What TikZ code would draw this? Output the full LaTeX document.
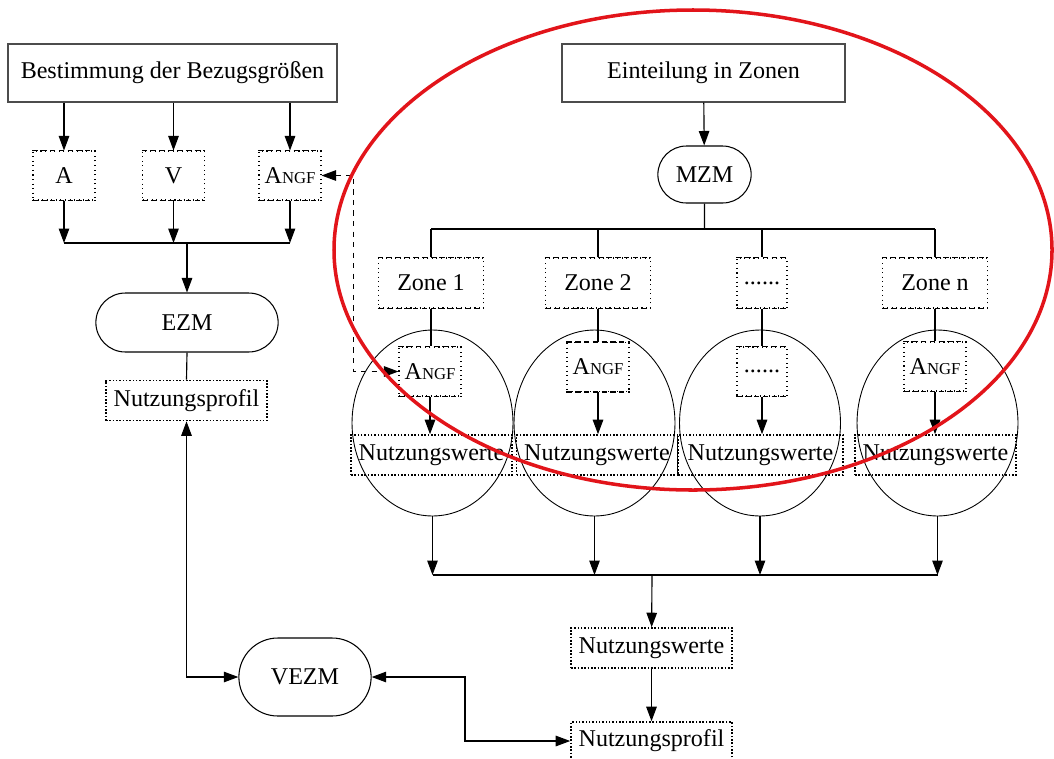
\documentclass[tikz,border=0pt]{standalone}
\usepackage{fontspec}
\setmainfont{Liberation Serif}
\usetikzlibrary{arrows.meta,shapes.misc,shapes.geometric}

\definecolor{markred}{RGB}{226,20,26}
\newcommand{\angf}{A{\fontsize{9.5}{10}\selectfont NGF}}

\tikzset{
  >={Triangle[length=2.9mm,width=2.1mm]},
  every node/.style={font=\fontsize{13.7}{16}\selectfont},
  block/.style={draw=black!70, line width=0.7pt, minimum height=1.16cm},
  term/.style={draw, rounded rectangle, line width=0.6pt},
  zbox/.style={draw, dotted, line width=0.6pt, inner sep=0pt,
    append after command={
      (\tikzlastnode.north west) edge[densely dashed, line width=1.1pt] (\tikzlastnode.north east)
      (\tikzlastnode.south west) edge[densely dashed, line width=1.1pt] (\tikzlastnode.south east)}},
  wbox/.style={draw, densely dotted, line width=0.9pt, minimum width=3.22cm,
    minimum height=0.8cm, inner sep=0pt},
  zell/.style={draw, ellipse, minimum width=3.22cm, minimum height=3.72cm, line width=0.5pt}
}

\begin{document}
\begin{tikzpicture}[x=0.02cm, y=-0.02cm, line width=0.65pt]
  \useasboundingbox (0,0) rectangle (1054,758);

  % left side: reference quantities and the single zone model
  \node[block, minimum width=6.58cm] (bez) at (172.5,73) {Bestimmung der Bezugsgrößen};
  \node[zbox, minimum width=1.24cm, minimum height=0.98cm] (a) at (64,175.5) {A};
  \node[zbox, minimum width=1.24cm, minimum height=0.98cm] (v) at (173.5,175.5) {V};
  \node[zbox, minimum width=1.24cm, minimum height=0.98cm] (angf) at (290,175.5) {\angf};
  \coordinate (top) at (187,243);

  \node[term, minimum width=3.88cm, minimum height=1.18cm] (ezm) at (187,322.5) {EZM};
  \node[wbox] (np1) at (186.5,400.5) {Nutzungsprofil};
  \node[term, minimum width=2.88cm, minimum height=1.56cm] (vezm) at (305,677) {VEZM};

  \draw[->] (bez.south -| a) -- (a);
  \draw[->] (bez.south -| v) -- (v);
  \draw[->] (bez.south -| angf) -- (angf);
  \draw[->] (a) -- (a |- top);
  \draw[->] (v) -- (v |- top);
  \draw[->] (angf) -- (angf |- top);
  \draw (a |- top) -- (angf |- top);
  \draw[->] (top) -- (top |- ezm.north);
  \draw (ezm.south) -- (np1.north);
  \draw[<->] (np1.south) |- (vezm.west);

  % right side: multi zone model
  \node[block, minimum width=5.66cm] (ein) at (703.5,73) {Einteilung in Zonen};
  \node[term, minimum width=2.1cm, minimum height=1.14cm] (mzm) at (704.5,174.5) {MZM};
  \coordinate (hub) at (704.5,229);

  \node[zell] (e1) at (432.5,423) {};
  \node[zell] (e2) at (594.5,423) {};
  \node[zell] (e3) at (760,423) {};
  \node[zell] (e4) at (937.5,423) {};

  \node[zbox, minimum width=2.1cm, minimum height=1cm] (z1) at (431,283) {Zone 1};
  \node[zbox, minimum width=2.1cm, minimum height=1cm] (z2) at (598,283) {Zone 2};
  \node[zbox, minimum width=1cm, minimum height=1cm] (z3) at (762,283) {......};
  \node[zbox, minimum width=2.1cm, minimum height=1cm] (z4) at (935,283) {Zone n};

  \node[zbox, minimum width=1.24cm, minimum height=0.98cm] (g1) at (430,371.5) {\angf};
  \node[zbox, minimum width=1.24cm, minimum height=0.98cm] (g2) at (598,367) {\angf};
  \node[zbox, minimum width=1cm, minimum height=0.98cm] (g3) at (762,371.5) {......};
  \node[zbox, minimum width=1.24cm, minimum height=0.98cm] (g4) at (935,366.5) {\angf};

  \node[wbox] (w1) at (431.5,455) {Nutzungswerte};
  \node[wbox] (w2) at (597,455) {Nutzungswerte};
  \node[wbox, minimum width=3.3cm] (w3) at (760.5,455) {Nutzungswerte};
  \node[wbox] (w4) at (935.5,455) {Nutzungswerte};

  \draw[->] (ein) -- (mzm);
  \draw (mzm) -- (hub);
  \draw (z1 |- hub) -- (z4 |- hub);
  \draw (z1 |- hub) -- (z1);
  \draw (z2 |- hub) -- (z2);
  \draw (z3 |- hub) -- (z3);
  \draw (z4 |- hub) -- (z4);
  \draw (z1) -- (z1 |- g1.north);
  \draw (z2) -- (g2);
  \draw (z3) -- (g3);
  \draw (z4) -- (g4);
  \draw[->] (g1.south) -- (g1.south |- w1.north);
  \draw[->] (g2.south) -- (g2.south |- w2.north);
  \draw[->] (g3.south) -- (g3.south |- w3.north);
  \draw[->] (g4.south) -- (g4.south |- w4.north);

  % collecting the zones
  \coordinate (bus) at (652,575);
  \draw[->] (e1.south) -- (e1.south |- bus);
  \draw[->] (e2.south) -- (e2.south |- bus);
  \draw[->] (e3.south) -- (e3.south |- bus);
  \draw[->] (e4.south) -- (e4.south |- bus);
  \draw (e1.south |- bus) -- (e4.south |- bus);

  \node[wbox] (nw) at (651.5,648) {Nutzungswerte};
  \node[wbox, minimum height=0.76cm] (npr) at (651.5,741) {Nutzungsprofil};
  \draw[->] (bus) -- (nw);
  \draw[->] (nw) -- (npr);
  \draw[<->] (vezm.east) -- (465,677) |- (npr.west);

  % floor area handed over to the zones
  \draw[<->, dashed] (angf.east) -- ++(32,0) |- (g1.west);

  % highlighted part
  \draw[markred, line width=2pt] (693,250) ellipse [x radius=359, y radius=240];
\end{tikzpicture}
\end{document}
